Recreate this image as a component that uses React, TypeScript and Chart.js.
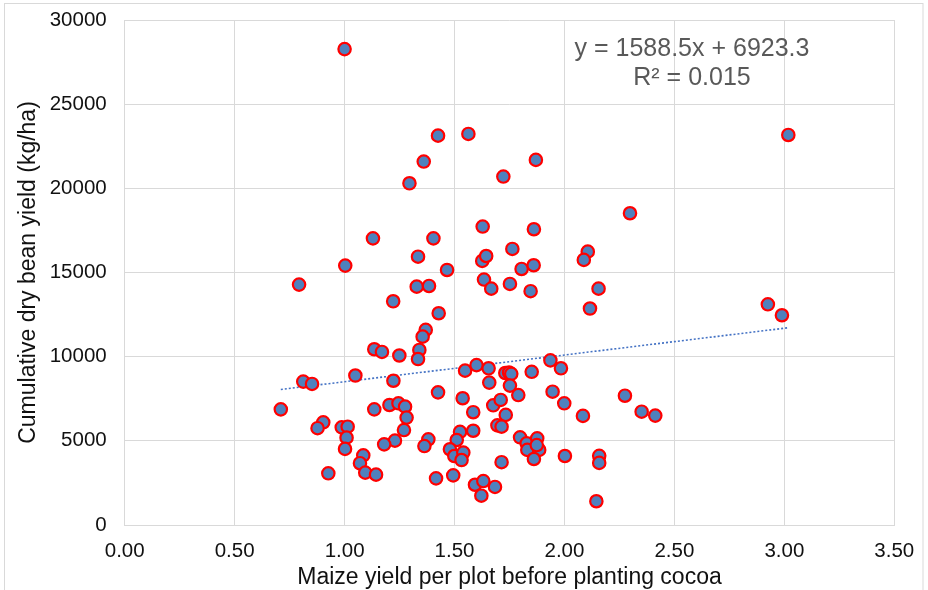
import { useEffect, useRef } from "react";
import { Chart, registerables } from "chart.js";

Chart.register(...registerables);

// Maize yield per plot before planting cocoa (x) and cumulative dry bean yield in kg/ha (y)
const maizeYield = [
  1.0, 1.425, 1.563, 3.018, 1.36, 1.87, 1.295, 1.722, 2.298, 1.129,
  1.404, 1.628, 1.861, 1.003, 1.334, 1.466, 0.793, 1.328, 1.384, 1.221,
  1.428, 1.369, 1.355, 1.135, 1.17, 1.249, 1.34, 1.334, 1.626, 1.644,
  1.763, 1.805, 1.86, 1.634, 1.667, 1.752, 1.846, 2.106, 2.088, 2.155,
  2.116, 2.925, 2.989,
  0.71, 0.812, 0.852, 1.049, 1.222, 1.548, 1.6, 1.655, 1.731, 1.748,
  1.758, 1.851, 1.936, 1.984, 1.658, 1.752, 1.79, 1.425, 1.946, 1.999,
  2.084, 1.537, 1.585, 1.676, 1.71, 1.733, 1.695, 1.714, 1.585, 1.525,
  1.51, 1.479, 1.499, 1.54, 1.532, 1.494, 1.416, 1.593, 1.631, 1.684,
  1.622, 1.714, 1.798, 1.828, 1.831, 1.876, 1.885, 1.861, 2.002, 2.158,
  2.158, 2.145, 2.275, 2.351, 2.413, 1.381, 1.363, 1.135, 1.204, 1.245,
  1.275, 1.282, 1.27, 1.229, 1.18, 0.903, 0.877, 0.987, 1.014, 1.009,
  1.002, 1.085, 1.07, 1.094, 1.143, 0.926, 1.874,
];

const beanYield = [
  28270, 23130, 23230, 23170, 21590, 21690, 20300, 20700, 18520, 17030,
  17030, 17730, 17570, 15410, 15940, 15150, 14280, 14160, 14200, 13290,
  12580, 11590, 11190, 10440, 10280, 10070, 10400, 9860, 15690, 15980,
  16400, 15210, 15430, 14580, 14040, 14320, 13890, 16240, 15750, 14040,
  12860, 13110, 12460,
  6870, 8520, 8380, 8880, 8570, 9170, 9500, 9310, 9030, 9060,
  8980, 9100, 9780, 9310, 8460, 8280, 7720, 7880, 7920, 7230,
  6480, 7530, 6700, 7110, 7430, 6540, 5920, 5840, 5600, 5530,
  5050, 4500, 4100, 4300, 3860, 2950, 2770, 2390, 2610, 2260,
  1740, 3730, 5210, 4850, 4460, 5150, 4460, 3920, 4100, 4110,
  3690, 1410, 7680, 6730, 6500, 5090, 4690, 6870, 7130, 7230,
  7030, 6380, 5640, 5010, 4790, 6100, 5750, 5800, 5840, 5190,
  4520, 4140, 3670, 3110, 2990, 3070, 4750,
];

// Linear trendline shown on the chart
const trendSlope = 1588.5;
const trendIntercept = 6923.3;
const equationLabel = "y = 1588.5x + 6923.3";
const rSquaredLabel = "R\u00b2 = 0.015";

const xTitle = "Maize yield per plot before planting cocoa";
const yTitle = "Cumulative dry bean yield (kg/ha)";

const xMin = 0;
const xMax = 3.5;
const xStep = 0.5;
const yMin = 0;
const yMax = 30000;
const yStep = 5000;

const FONT = "'Liberation Sans', Arial, sans-serif";
const GRID = "#d9d9d9";

const overlayPlugin = {
  id: "overlay",
  afterDraw(chart: any) {
    const { ctx } = chart;
    ctx.save();
    // outer chart frame
    ctx.strokeStyle = GRID;
    ctx.lineWidth = 1;
    ctx.strokeRect(4.5, 3.5, 918.5, 600);

    // trendline equation
    ctx.fillStyle = "#595959";
    ctx.font = `25px ${FONT}`;
    ctx.textAlign = "center";
    ctx.textBaseline = "middle";
    ctx.fillText(equationLabel, 692, 49);
    ctx.fillText(rSquaredLabel, 692, 78);

    // axis titles
    ctx.fillStyle = "#111";
    ctx.font = `23px ${FONT}`;
    ctx.fillText(xTitle, 509.5, 578);
    ctx.translate(29, 272.5);
    ctx.rotate(-Math.PI / 2);
    ctx.fillText(yTitle, 0, 0);
    ctx.restore();
  },
};

export default function App() {
  const canvasRef = useRef<HTMLCanvasElement | null>(null);

  useEffect(() => {
    const canvas = canvasRef.current;
    if (!canvas) return;

    const points = maizeYield.map((x, i) => ({ x, y: beanYield[i] }));
    const lo = Math.min(...maizeYield);
    const hi = Math.max(...maizeYield);
    const trend = [
      { x: lo, y: trendSlope * lo + trendIntercept },
      { x: hi, y: trendSlope * hi + trendIntercept },
    ];

    const chart = new Chart(canvas, {
      type: "scatter",
      data: {
        datasets: [
          {
            type: "line",
            data: trend,
            borderColor: "#4472c4",
            borderWidth: 1.6,
            borderDash: [2, 2],
            pointRadius: 0,
            fill: false,
            order: 2,
          },
          {
            data: points,
            backgroundColor: "#4f81bd",
            borderColor: "#ff0000",
            borderWidth: 2.2,
            pointRadius: 6.2,
            order: 1,
          },
        ],
      },
      options: {
        responsive: false,
        animation: false,
        events: [],
        layout: { padding: { top: 20, right: 33.7, left: 0, bottom: 0 } },
        plugins: {
          legend: { display: false },
          tooltip: { enabled: false },
        },
        scales: {
          x: {
            type: "linear",
            min: xMin,
            max: xMax,
            afterFit: (s: any) => {
              s.height = 65;
              s.paddingLeft = 0;
              s.paddingRight = 0;
            },
            ticks: {
              stepSize: xStep,
              color: "#111",
              padding: 14,
              font: { family: FONT, size: 20.5 },
              callback: (v: any) => Number(v).toFixed(2),
            },
            grid: { color: GRID, drawTicks: false },
            border: { color: GRID },
          },
          y: {
            min: yMin,
            max: yMax,
            afterFit: (s: any) => {
              s.width = 124.7;
              s.paddingTop = 0;
              s.paddingBottom = 0;
            },
            ticks: {
              stepSize: yStep,
              color: "#111",
              padding: 18,
              font: { family: FONT, size: 20.5 },
              callback: (v: any) => String(v),
            },
            grid: { color: GRID, drawTicks: false },
            border: { color: GRID },
          },
        },
      },
      plugins: [overlayPlugin],
    });

    return () => chart.destroy();
  }, []);

  return (
    <div style={{ position: "fixed", left: 0, top: 0, width: 928, height: 590, background: "#fff" }}>
      <canvas ref={canvasRef} width={928} height={590} />
    </div>
  );
}
